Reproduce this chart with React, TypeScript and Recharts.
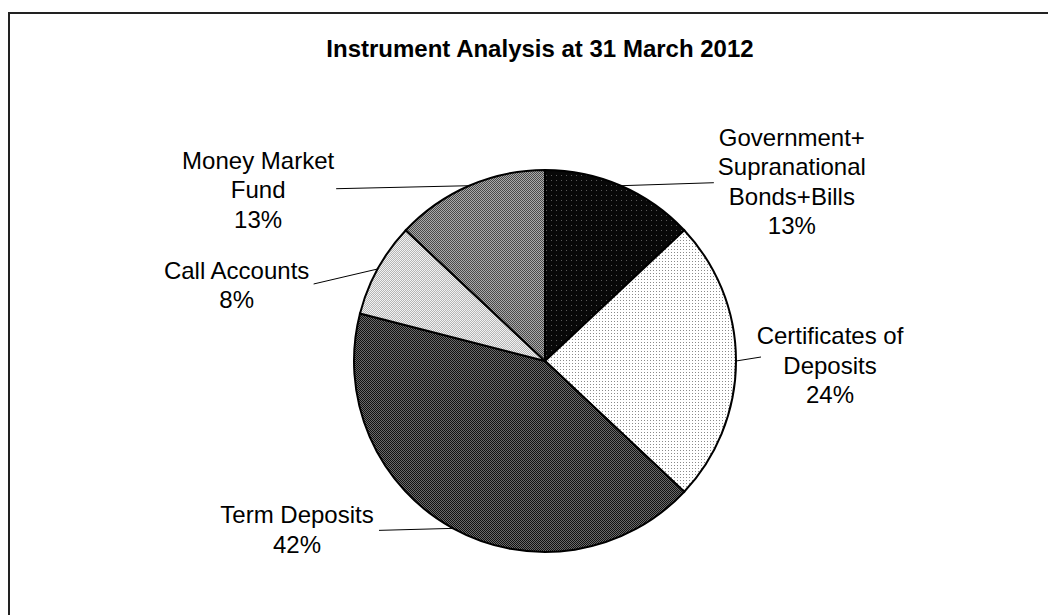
import { PieChart, Pie, Cell } from "recharts";

const categories: string[] = [
  "Government+\nSupranational\nBonds+Bills",
  "Certificates of\nDeposits",
  "Term Deposits",
  "Call Accounts",
  "Money Market\nFund",
];

const shares: number[] = [13, 24, 42, 8, 13];

const data = categories.map((name, i) => ({ name, value: shares[i] }));

// leader end relative to the arc point, then text centre / first baseline relative to leader end
const labelLayout = [
  { lx: 93, ly: -3, tx: 78, ty: -37 },
  { lx: 25, ly: -4, tx: 69, ty: -13 },
  { lx: -74, ly: 2, tx: -82, ty: -7 },
  { lx: -64, ly: 15, tx: -77, ty: -5 },
  { lx: -133, ly: 3, tx: -78, ty: -20 },
];

const RAD = Math.PI / 180;

function SliceLabel(props: any) {
  const { cx, cy, midAngle, outerRadius, percent, index, name } = props;
  const px = cx + outerRadius * Math.cos(-midAngle * RAD);
  const py = cy + outerRadius * Math.sin(-midAngle * RAD);
  const lay = labelLayout[index];
  const ex = px + lay.lx;
  const ey = py + lay.ly;
  const lines = String(name).split("\n");
  lines.push(`${Math.round(percent * 100)}%`);
  return (
    <g>
      <line x1={px} y1={py} x2={ex} y2={ey} stroke="#000" strokeWidth={1} />
      {lines.map((t, i) => (
        <text
          key={i}
          x={ex + lay.tx}
          y={ey + lay.ty + i * 29.5}
          textAnchor="middle"
          fontSize={24}
          fontFamily="'Liberation Sans', Arial, sans-serif"
          fill="#000"
        >
          {t}
        </text>
      ))}
    </g>
  );
}

export default function App() {
  return (
    <div style={{ paddingTop: 4, position: "relative" }}>
      <div
        style={{
          borderLeft: "2px solid #222",
          borderTop: "2px solid #222",
          width: 1060,
          height: 610,
          position: "relative",
        }}
      >
        <div
          style={{
            position: "absolute",
            left: 0,
            top: 23,
            width: 1060,
            textAlign: "center",
            fontFamily: "'Liberation Sans', Arial, sans-serif",
            fontWeight: "bold",
            fontSize: 24,
            lineHeight: "24px",
          }}
        >
          Instrument Analysis at 31 March 2012
        </div>
        <PieChart width={1046} height={601}>
          <defs>
            <pattern id="pGov" width="5" height="5" patternUnits="userSpaceOnUse">
              <rect width="5" height="5" fill="#080808" />
              <rect x="1" y="1" width="1" height="1" fill="#5a5a5a" />
            </pattern>
            <pattern id="pCert" width="3" height="3" patternUnits="userSpaceOnUse">
              <rect width="3" height="3" fill="#ffffff" />
              <rect x="1" y="1" width="1" height="1" fill="#8a8a8a" />
            </pattern>
            <pattern id="pTerm" width="2" height="2" patternUnits="userSpaceOnUse">
              <rect width="2" height="2" fill="#111" />
              <rect x="1" y="0" width="1" height="1" fill="#6a6a6a" />
              <rect x="0" y="1" width="1" height="1" fill="#6a6a6a" />
            </pattern>
            <pattern id="pCall" width="2" height="2" patternUnits="userSpaceOnUse">
              <rect width="2" height="2" fill="#f2f2f2" />
              <rect x="1" y="0" width="1" height="1" fill="#b5b5b5" />
              <rect x="0" y="1" width="1" height="1" fill="#b5b5b5" />
            </pattern>
            <pattern id="pMoney" width="2" height="2" patternUnits="userSpaceOnUse">
              <rect width="2" height="2" fill="#4a4a4a" />
              <rect x="1" y="0" width="1" height="1" fill="#aaaaaa" />
              <rect x="0" y="1" width="1" height="1" fill="#aaaaaa" />
            </pattern>
          </defs>
          <Pie
            data={data}
            dataKey="value"
            nameKey="name"
            cx={530}
            cy={342}
            outerRadius={191}
            startAngle={90}
            endAngle={-270}
            stroke="#000"
            strokeWidth={2}
            label={SliceLabel}
            labelLine={false}
            isAnimationActive={false}
          >
            {["pGov", "pCert", "pTerm", "pCall", "pMoney"].map((id) => (
              <Cell key={id} fill={`url(#${id})`} />
            ))}
          </Pie>
        </PieChart>
      </div>
    </div>
  );
}
